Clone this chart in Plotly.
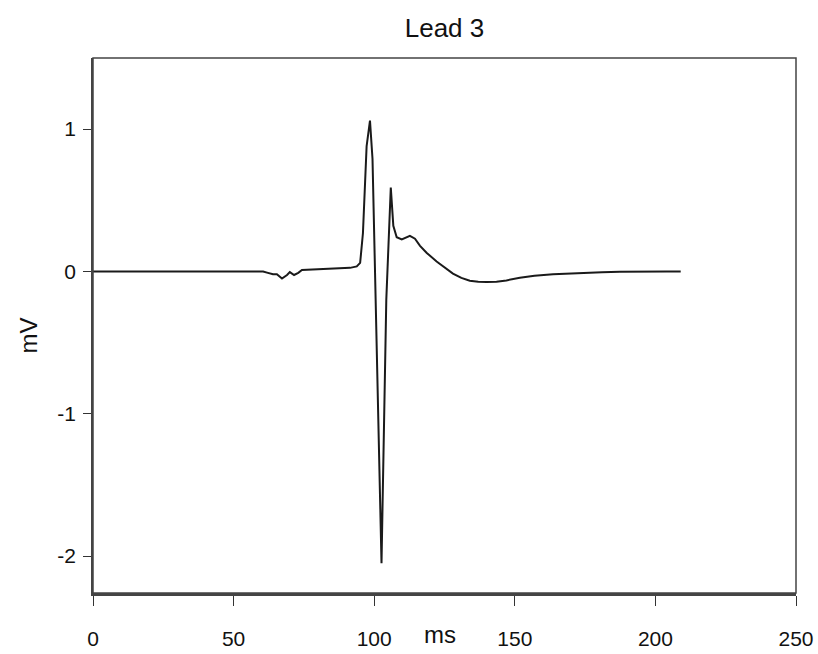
import plotly.graph_objects as go

# ECG Lead 3 waveform
time_ms = [0, 20, 40, 55, 60.5, 62.2, 64, 65.4, 67.2, 69, 70, 71.5, 73, 74.3, 80.7, 91.4, 93.8,
           95, 96, 97.3, 98.5, 99.4, 102.6, 104.3, 105.9, 106.8, 108, 109.8, 112.7, 114.5,
           116.3, 118.7, 122.2, 125, 128, 131, 134, 137, 140, 143.5, 147, 151.8, 157, 163.6,
           169, 175.6, 181, 187.4, 193, 199, 204, 209]
voltage_mv = [0, 0, 0, 0, 0, -0.01, -0.02, -0.02, -0.05, -0.025, -0.005, -0.025, -0.01, 0.01,
              0.015, 0.025, 0.035,
              0.06, 0.27, 0.88, 1.06, 0.79, -2.05, -0.2, 0.59, 0.32, 0.24, 0.225, 0.25, 0.23,
              0.18, 0.13, 0.07, 0.03, -0.015, -0.045, -0.065, -0.072, -0.075, -0.072, -0.063,
              -0.045, -0.03, -0.02, -0.014, -0.01, -0.005, -0.002, 0, 0, 0, 0]

x_ticks = [0, 50, 100, 150, 200, 250]
x_tick_labels = ["0", "50", "100", "150", "200", "250"]
y_ticks = [1, 0, -1, -2]
y_tick_labels = ["1", "0", "-1", "-2"]

FONT = "Liberation Sans, Arial, sans-serif"

fig = go.Figure()
fig.add_trace(go.Scatter(x=time_ms, y=voltage_mv, mode="lines",
                         line=dict(color="#1a1a1a", width=2), showlegend=False))

fig.update_layout(
    width=818, height=654,
    margin=dict(l=93, r=22, t=58, b=61, autoexpand=False),
    paper_bgcolor="white", plot_bgcolor="white",
    font=dict(family=FONT, size=21, color="#111"),
    title=dict(text="Lead 3", x=0.5, xref="paper", xanchor="center",
               y=1 - 28 / 654, yanchor="middle", font=dict(size=26),
               automargin=False),
    xaxis=dict(range=[0, 250], tickvals=x_ticks, ticktext=x_tick_labels,
               ticks="outside", ticklen=10, automargin=False,
               tickwidth=1, tickcolor="#333", showgrid=False, zeroline=False,
               showline=True, linewidth=3, linecolor="#444",
               ticklabelstandoff=15, tickfont=dict(size=21)),
    yaxis=dict(range=[-2.26, 1.5], tickvals=y_ticks, ticktext=y_tick_labels,
               ticks="outside", ticklen=8, automargin=False,
               tickwidth=1, tickcolor="#333", showgrid=False, zeroline=False,
               showline=True, linewidth=1.5, linecolor="#444",
               ticklabelstandoff=3, tickfont=dict(size=21)),
)

# frame box
fig.add_shape(type="rect", xref="paper", yref="paper", x0=0, x1=1, y0=0, y1=1,
              line=dict(color="#444", width=1.5), layer="above")

fig.add_annotation(text="ms", xref="paper", yref="paper", x=347 / 703, y=0,
                   xanchor="center", yanchor="middle", yshift=-41,
                   showarrow=False, font=dict(size=24))
fig.add_annotation(text="mV", xref="paper", yref="paper", x=0, y=0.5,
                   xanchor="center", yanchor="middle", xshift=-65, yshift=-10,
                   textangle=-90, showarrow=False, font=dict(size=24))

# remove the browser's default 8px body margin so the figure fills the window
fig.write_html("out.html",
               config={"displayModeBar": False},
               post_script="document.body.style.margin='0px';document.body.style.overflow='hidden';")
